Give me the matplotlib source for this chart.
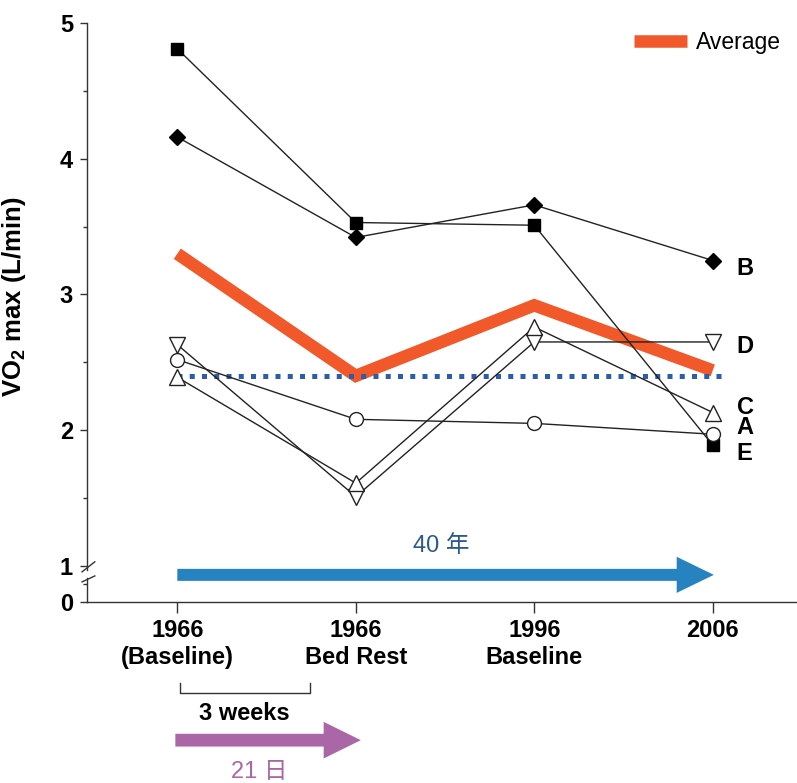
import matplotlib
matplotlib.use("Agg")
import matplotlib.pyplot as plt
from matplotlib.patches import FancyArrow
from matplotlib.lines import Line2D
import matplotlib.transforms as mtransforms

plt.rcParams["font.family"] = ["Liberation Sans", "Noto Sans CJK SC", "DejaVu Sans"]
plt.rcParams["mathtext.fontset"] = "custom"
plt.rcParams["mathtext.rm"] = "Liberation Sans"
plt.rcParams["mathtext.bf"] = "Liberation Sans:bold"

# 数据
stages = ["1966\n(Baseline)", "1966\nBed Rest", "1996\nBaseline", "2006"]
subj_a = [2.52, 2.08, 2.05, 1.97]   # 空心圆
subj_b = [4.16, 3.42, 3.66, 3.25]   # 实心菱形
subj_c = [2.39, 1.61, 2.76, 2.13]   # 空心上三角
subj_d = [2.63, 1.51, 2.65, 2.65]   # 空心下三角
subj_e = [4.81, 3.53, 3.51, 1.89]   # 实心方块
average = [3.30, 2.40, 2.92, 2.44]
ref_level = 2.40
y_ticks = [1, 2, 3, 4, 5]

Y_ZERO = 0.734  # 断轴后 "0" 所在位置
ORANGE = "#f1592a"
BLUE_ARROW = "#2782c0"
BLUE_DOT = "#2b5dab"
PURPLE = "#ab66a8"
DARK = "#222222"

fig = plt.figure(figsize=(7.97, 7.83), dpi=100)
ax = fig.add_axes([87 / 797, 1 - 602 / 783, 1 - 87 / 797, (602 - 23) / 783])

x = list(range(len(stages)))

ax.plot(x, average, color=ORANGE, lw=9, solid_capstyle="butt",
        solid_joinstyle="miter", zorder=2, label="Average")
ax.plot([x[0], x[-1] + 0.07], [ref_level, ref_level], color=BLUE_DOT, lw=3.6,
        linestyle=(0, (1, 1.45)), zorder=3)

line_kw = dict(color=DARK, lw=1.0, markeredgewidth=1.0, zorder=4)
ax.plot(x, subj_e, marker="s", markersize=8.5, markerfacecolor="black",
        markeredgecolor="black", **line_kw)
ax.plot(x, subj_b, marker="D", markersize=8.5, markerfacecolor="black",
        markeredgecolor="black", **line_kw)
ax.plot(x, subj_d, marker="v", markersize=11, markerfacecolor="white",
        markeredgecolor=DARK, **line_kw)
ax.plot(x, subj_c, marker="^", markersize=11, markerfacecolor="white",
        markeredgecolor=DARK, **line_kw)
ax.plot(x, subj_a, marker="o", markersize=10, markerfacecolor="white",
        markeredgecolor=DARK, **line_kw)

# 右侧受试者标签
for name, vals, dy in [("B", subj_b, -0.06), ("D", subj_d, -0.035), ("C", subj_c, 0.04),
                       ("A", subj_a, 0.05), ("E", subj_e, -0.06)]:
    ax.text(x[-1] + 0.135, vals[-1] + dy, name, fontsize=17, fontweight="bold",
            ha="left", va="center")

ax.set_xlim(-0.506, 3.472)
ax.set_ylim(Y_ZERO, 5.0)

ax.set_xticks(x)
ax.set_xticklabels(stages, fontsize=17, fontweight="bold", linespacing=1.25)
ax.set_yticks([Y_ZERO] + y_ticks)
ax.set_yticklabels(["0"] + [str(v) for v in y_ticks], fontsize=17, fontweight="bold")
ax.set_yticks([(Y_ZERO + 1) / 2, 1.5, 2.5, 3.5, 4.5], minor=True)
ax.tick_params(axis="x", direction="out", length=8, width=1, color="#333333", pad=4)
ax.tick_params(axis="y", direction="out", length=5, width=1, color="#333333", pad=5)
ax.tick_params(axis="y", which="minor", direction="out", length=3, width=1, color="#333333")

for s in ["top", "right", "left"]:
    ax.spines[s].set_visible(False)
ax.spines["bottom"].set_color("#333333")
ax.spines["bottom"].set_linewidth(1.0)

# 断开的 y 轴
trans = mtransforms.blended_transform_factory(ax.transAxes, ax.transData)
ax.plot([0, 0], [0.971, 5.0], color="#333333", lw=1.0, transform=trans, clip_on=False)
ax.plot([0, 0], [Y_ZERO, 0.911], color="#333333", lw=1.0, transform=trans, clip_on=False)
ax.plot([-0.007, 0.011], [0.956, 1.03], color="#333333", lw=1.0, transform=trans, clip_on=False)
ax.plot([-0.007, 0.011], [0.882, 0.926], color="#333333", lw=1.0, transform=trans, clip_on=False)

ax.set_ylabel(r"VO$_\mathbf{2}$ max (L/min)", fontsize=18.5, fontweight="bold")
ax.yaxis.set_label_coords(-0.083, 0.527)

leg = ax.legend(handles=[Line2D([], [], color=ORANGE, lw=9, solid_capstyle="butt")],
                labels=["Average"], loc="center right", bbox_to_anchor=(0.977, 0.967),
                frameon=False, fontsize=16.5, handlelength=2.27, handletextpad=0.4,
                borderpad=0, borderaxespad=0)

# 40 年 箭头
ax.add_patch(FancyArrow(x[0], 0.934, x[-1] + 0.006, 0, width=0.0886, head_width=0.266,
                        head_length=0.208, length_includes_head=True,
                        color=BLUE_ARROW, lw=0, clip_on=False, zorder=3))
ax.text(1.48, 1.15, "40 年", fontsize=17, color="#2d5a8a", ha="center", va="center")

# 3 weeks 括号 与 21 日 箭头
ax.plot([0.017, 0.017, 0.742, 0.742], [0.137, 0.063, 0.063, 0.137],
        color="#333333", lw=1.0, clip_on=False)
ax.text(0.376, -0.085, "3 weeks", fontsize=17, fontweight="bold", ha="center", va="center")
ax.add_patch(FancyArrow(-0.011, -0.284, 1.039, 0, width=0.094, head_width=0.27,
                        head_length=0.208, length_includes_head=True,
                        color=PURPLE, lw=0, clip_on=False))
ax.text(0.46, -0.52, "21 日", fontsize=17, color=PURPLE, ha="center", va="center")

fig.savefig("out.png", dpi=100)
